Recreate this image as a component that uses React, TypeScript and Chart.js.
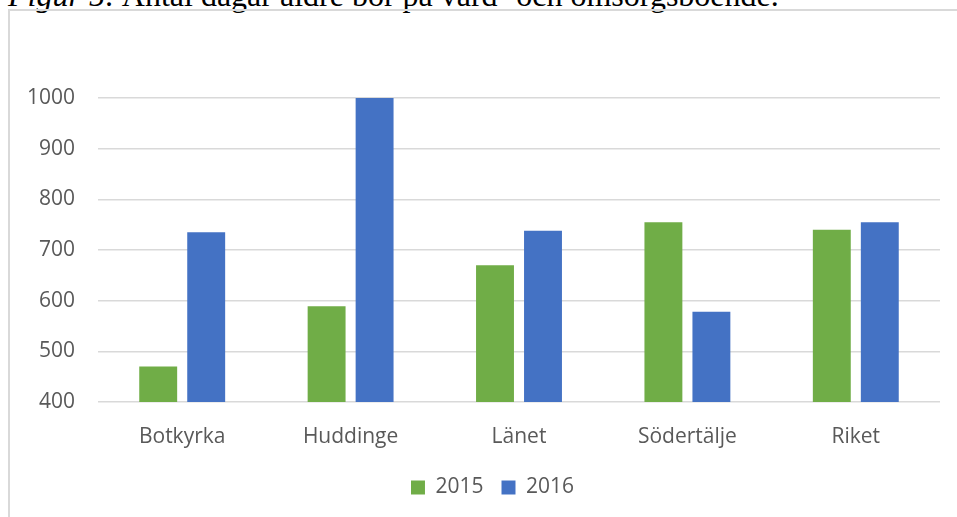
import React, { useEffect, useRef } from "react";
import { Chart, registerables } from "chart.js";

Chart.register(...registerables);

const categories = ["Botkyrka", "Huddinge", "Länet", "Södertälje", "Riket"];
const values2015 = [470, 589, 670, 755, 740];
const values2016 = [735, 1000, 738, 578, 755];
const seriesLabels = ["2015", "2016"];
const yMin = 400;
const yMax = 1000;
const yStep = 100;
const caption = "Antal dagar äldre bor på vård- och omsorgsboende.";

const textColor = "#595959";
const font = { family: "'Open Sans'", size: 21 };

export default function App() {
  const ref = useRef<HTMLCanvasElement>(null);

  useEffect(() => {
    const chart = new Chart(ref.current!, {
      type: "bar",
      data: {
        labels: categories,
        datasets: [
          { label: seriesLabels[0], data: values2015, backgroundColor: "#70AD47" },
          { label: seriesLabels[1], data: values2016, backgroundColor: "#4472C4" },
        ],
      },
      options: {
        responsive: false,
        animation: false,
        devicePixelRatio: 1,
        layout: { padding: { left: 28, right: 0, top: 98, bottom: 9 } },
        datasets: { bar: { categoryPercentage: 0.57, barPercentage: 0.79 } },
        scales: {
          x: {
            grid: { display: false, drawTicks: false },
            border: { display: false },
            ticks: { font, color: textColor, padding: 22 },
            afterFit: (s: any) => {
              s.height = 57;
            },
          },
          y: {
            min: yMin,
            max: yMax,
            ticks: {
              stepSize: yStep,
              font,
              color: textColor,
              padding: 23,
              callback: (v: any) => String(v),
            },
            grid: { color: "#d9d9d9", lineWidth: 1.5, drawTicks: false },
            border: { display: false },
            afterFit: (s: any) => {
              s.width = 70;
            },
          },
          yRight: {
            position: "right",
            display: true,
            grid: { display: false, drawTicks: false },
            border: { display: false },
            ticks: { display: false },
            afterFit: (s: any) => {
              s.width = 17;
            },
          },
        },
        plugins: {
          legend: {
            position: "bottom",
            labels: { boxWidth: 14, boxHeight: 14, font, color: textColor, padding: 18 },
          },
          tooltip: { enabled: false },
        },
      },
    });
    return () => chart.destroy();
  }, []);

  return (
    <div style={{ position: "fixed", inset: 0, overflow: "hidden", background: "#fff" }}>
      <div
        style={{
          position: "absolute",
          left: 8,
          top: -21,
          fontFamily: "'Liberation Serif', serif",
          fontSize: 32,
          lineHeight: "32px",
          whiteSpace: "nowrap",
          color: "#000",
        }}
      >
        <i>Figur 5:</i> {caption}
      </div>
      <div
        style={{
          position: "absolute",
          left: 8,
          top: 9,
          width: 1100,
          height: 700,
          border: "2px solid #d9d9d9",
          boxSizing: "border-box",
        }}
      />
      <canvas
        ref={ref}
        width={957}
        height={517}
        style={{ position: "absolute", left: 0, top: 0, width: 957, height: 517 }}
      />
    </div>
  );
}
